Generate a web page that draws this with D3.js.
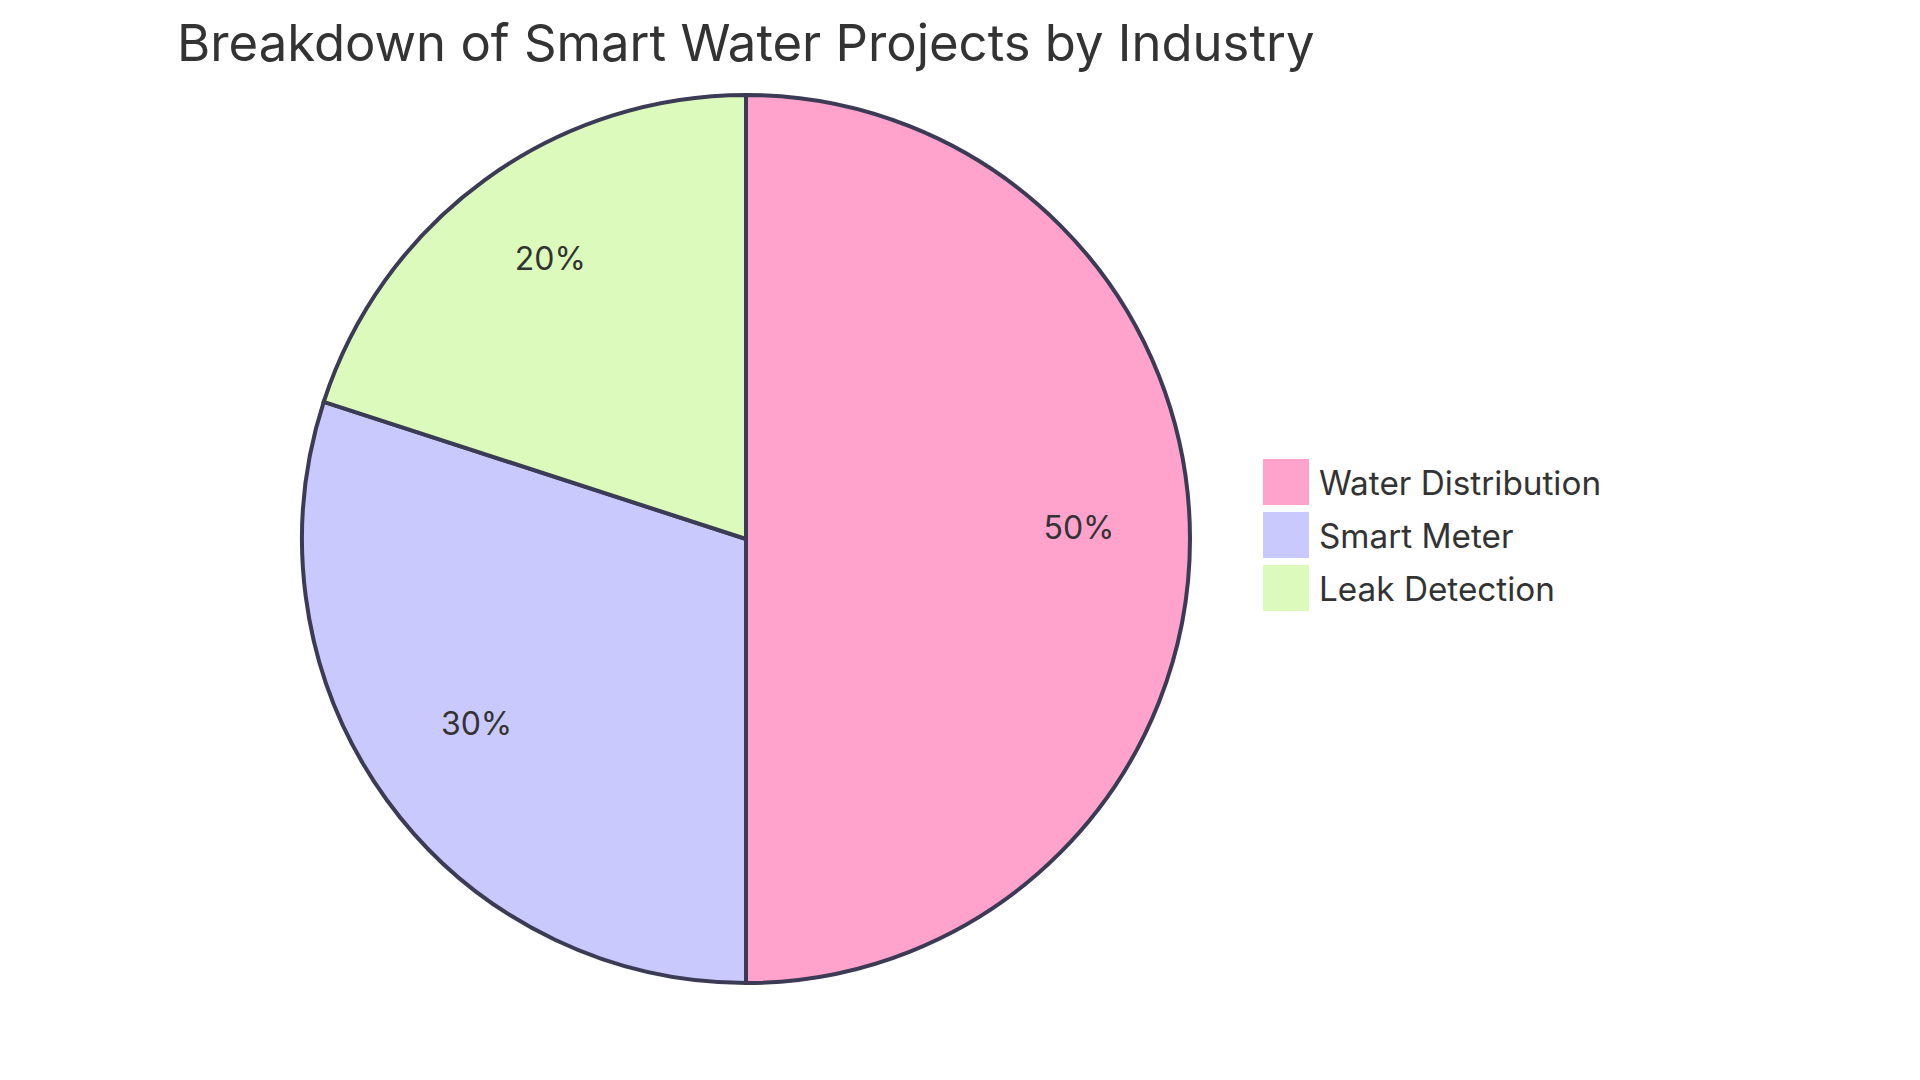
<!DOCTYPE html>
<html>
<head>
<meta charset="utf-8">
<script src="https://cdn.jsdelivr.net/npm/d3@7"></script>
<style>
  body { margin: 0; background: #fff; }
  text { font-family: Inter, "Open Sans", sans-serif; fill: #333; }
</style>
</head>
<body>
<div id="chart"></div>
<script>
//------------------------------DATA------------------------------//
var chartTitle = "Breakdown of Smart Water Projects by Industry";
var categories = ["Water Distribution", "Smart Meter", "Leak Detection"];
var values = [50, 30, 20];
var colors = ["#ffa3cd", "#c9c9fd", "#dcfabb"];

//------------------------------SVG-------------------------------//
var width = 1920, height = 1080;
var cx = 746, cy = 539, radius = 444;

var svg = d3.select("#chart").append("svg")
    .attr("width", width)
    .attr("height", height);

var data = categories.map(function(c, i) {
    return { label: c, value: values[i] };
});

var total = d3.sum(values);
var color = d3.scaleOrdinal().domain(categories).range(colors);

//------------------------------PIE-------------------------------//
var pie = d3.pie()
    .sort(null)
    .value(function(d) { return d.value; });

var arc = d3.arc().innerRadius(0).outerRadius(radius);
var labelArc = d3.arc().innerRadius(radius * 0.75).outerRadius(radius * 0.75);

var g = svg.append("g")
    .attr("transform", "translate(" + cx + "," + cy + ")");

g.selectAll("path")
    .data(pie(data))
    .enter()
    .append("path")
    .attr("d", arc)
    .style("fill", function(d) { return color(d.data.label); })
    .style("stroke", "#3b3b55")
    .style("stroke-width", 4);

g.selectAll(".slice-label")
    .data(pie(data))
    .enter()
    .append("text")
    .attr("class", "slice-label")
    .attr("transform", function(d) { return "translate(" + labelArc.centroid(d) + ")"; })
    .attr("text-anchor", "middle")
    .style("font-size", "32px")
    .text(function(d) { return Math.round(d.data.value / total * 100) + "%"; });

//-----------------------------TITLE------------------------------//
svg.append("text")
    .attr("x", 177)
    .attr("y", 61)
    .style("font-size", "50.8px")
    .text(chartTitle);

//-----------------------------LEGEND-----------------------------//
var legend = svg.selectAll(".legend")
    .data(categories)
    .enter()
    .append("g")
    .attr("class", "legend")
    .attr("transform", function(d, i) { return "translate(1263," + (459 + i * 53) + ")"; });

legend.append("rect")
    .attr("width", 46)
    .attr("height", 46)
    .style("fill", function(d) { return color(d); });

legend.append("text")
    .attr("x", 56)
    .attr("y", 36)
    .style("font-size", "33.3px")
    .text(function(d) { return d; });
</script>
</body>
</html>
